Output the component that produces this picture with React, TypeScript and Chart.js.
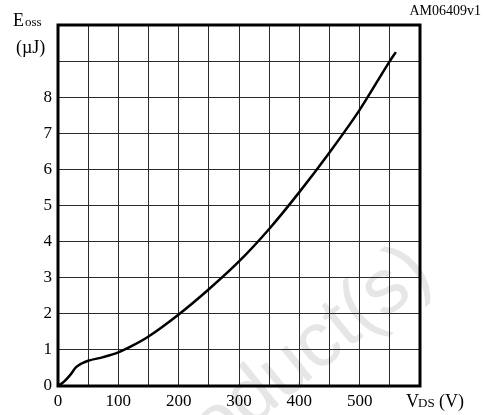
import React, { useEffect, useRef } from "react";
import { Chart, registerables } from "chart.js";

Chart.register(...registerables);

// Output energy stored in Coss versus drain-source voltage
const VDS_V = [0, 10, 20, 30, 40, 50, 75, 100, 125, 150, 200, 250, 300, 350, 400, 450, 500, 550, 560];
const EOSS_UJ = [0, 0.12, 0.3, 0.52, 0.63, 0.7, 0.8, 0.93, 1.13, 1.37, 1.98, 2.68, 3.45, 4.35, 5.37, 6.47, 7.65, 9.0, 9.25];

const X_LABELS = ["0", "100", "200", "300", "400", "500"];
const Y_LABELS = ["0", "1", "2", "3", "4", "5", "6", "7", "8"];

const SERIF = "'Liberation Serif', 'Times New Roman', serif";

const decorations = {
  id: "decorations",
  beforeDraw(chart: any) {
    const { ctx, width, height } = chart;
    ctx.save();
    ctx.fillStyle = "#ffffff";
    ctx.fillRect(0, 0, width, height);
    // faint diagonal watermark
    ctx.translate(155, 505);
    ctx.rotate(-0.68);
    ctx.fillStyle = "rgba(200,200,200,0.45)";
    ctx.font = "78px 'Liberation Sans', Arial, sans-serif";
    ctx.textBaseline = "alphabetic";
    ctx.fillText("Product(s)", 0, 0);
    ctx.restore();
  },
  afterDatasetsDraw(chart: any) {
    const { ctx, chartArea: a } = chart;
    ctx.save();
    ctx.strokeStyle = "#000";
    ctx.lineWidth = 3;
    ctx.strokeRect(a.left, a.top, a.right - a.left, a.bottom - a.top);

    ctx.fillStyle = "#000";
    ctx.textBaseline = "alphabetic";
    // y-axis title: E_oss (µJ)
    ctx.textAlign = "left";
    ctx.font = `18px ${SERIF}`;
    ctx.fillText("E", 13, 26);
    ctx.font = `13px ${SERIF}`;
    ctx.fillText("oss", 25, 26);
    ctx.font = `18px ${SERIF}`;
    ctx.fillText("(µJ)", 16, 53);

    // x-axis title: V_DS (V)
    ctx.font = `18px ${SERIF}`;
    ctx.fillText("V", 406, 407);
    ctx.font = `13px ${SERIF}`;
    ctx.fillText("DS", 418, 407);
    ctx.font = `18px ${SERIF}`;
    ctx.fillText("(V)", 439, 407);

    // figure code
    ctx.font = `14px ${SERIF}`;
    ctx.textAlign = "right";
    ctx.fillText("AM06409v1", 481, 15);
    ctx.restore();
  },
};

export default function App() {
  const canvasRef = useRef<HTMLCanvasElement | null>(null);

  useEffect(() => {
    if (!canvasRef.current) return;
    const chart = new Chart(canvasRef.current, {
      type: "line",
      data: {
        datasets: [
          {
            data: VDS_V.map((v, i) => ({ x: v, y: EOSS_UJ[i] })),
            borderColor: "#000",
            borderWidth: 2.5,
            pointRadius: 0,
            cubicInterpolationMode: "monotone",
            fill: false,
          },
        ],
      },
      plugins: [decorations],
      options: {
        animation: false,
        responsive: false,
        devicePixelRatio: 1,
        layout: { padding: { left: 0, top: 25, right: 64, bottom: 0 } },
        plugins: { legend: { display: false }, tooltip: { enabled: false } },
        scales: {
          x: {
            type: "linear",
            min: 0,
            max: 600,
            afterFit: (s: any) => {
              s.height = 29;
            },
            ticks: {
              stepSize: 50,
              autoSkip: false,
              maxRotation: 0,
              padding: 5,
              color: "#000",
              font: { family: SERIF, size: 17 },
              callback: (v: any) => {
                const s = String(v);
                return X_LABELS.includes(s) ? s : "";
              },
            },
            grid: { color: "#2a2a2a", lineWidth: 1, drawTicks: false },
            border: { display: false },
          },
          y: {
            type: "linear",
            min: 0,
            max: 10,
            afterFit: (s: any) => {
              s.width = 58;
            },
            ticks: {
              stepSize: 1,
              autoSkip: false,
              padding: 6,
              color: "#000",
              font: { family: SERIF, size: 17 },
              callback: (v: any) => {
                const s = String(v);
                return Y_LABELS.includes(s) ? s : "";
              },
            },
            grid: { color: "#2a2a2a", lineWidth: 1, drawTicks: false },
            border: { display: false },
          },
        },
      },
    });
    return () => chart.destroy();
  }, []);

  return (
    <div style={{ position: "fixed", left: 0, top: 0, width: 484, height: 415 }}>
      <canvas ref={canvasRef} width={484} height={415} />
    </div>
  );
}
